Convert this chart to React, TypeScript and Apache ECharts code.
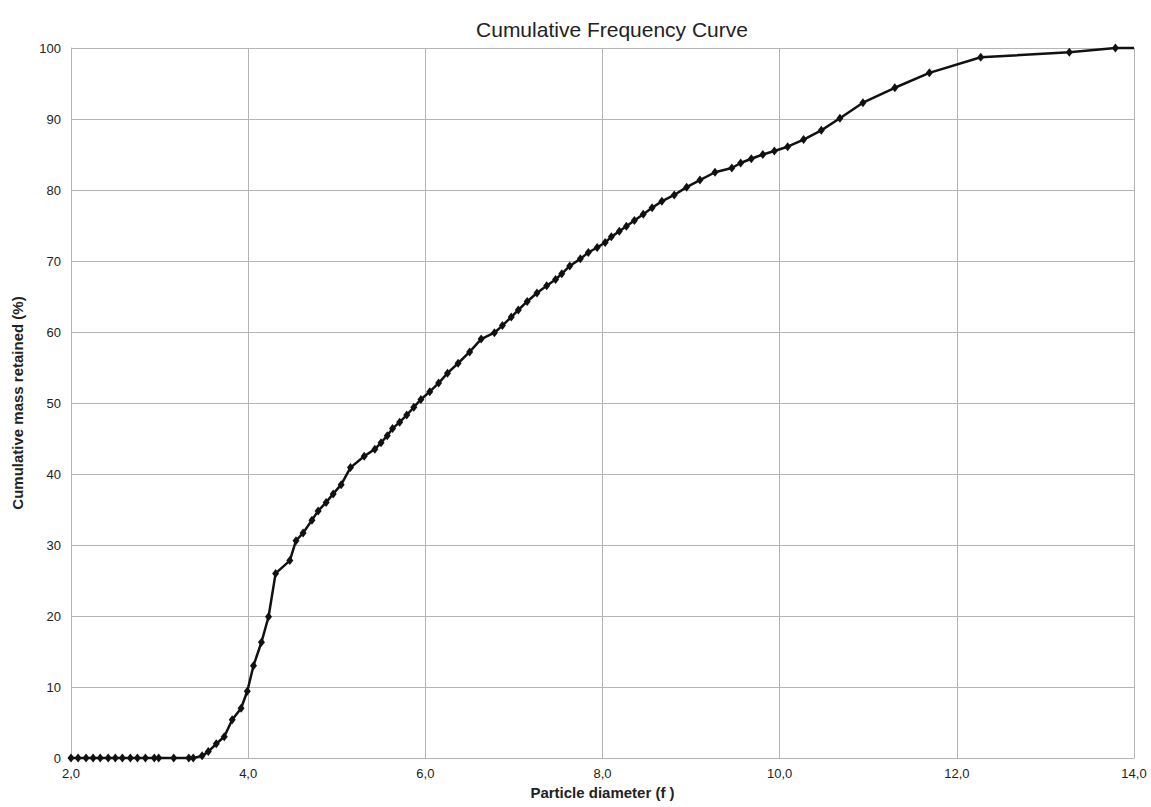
import React, { useEffect, useRef } from "react";
import * as echarts from "echarts";

// Particle diameter (phi) of each measured point
const diameters: number[] = [
  2.0, 2.08, 2.17, 2.25, 2.33, 2.42, 2.5, 2.58, 2.67, 2.75, 2.84, 2.94, 2.99,
  3.16, 3.33, 3.38, 3.48, 3.55, 3.64, 3.73, 3.82, 3.92, 3.99, 4.06, 4.15, 4.23,
  4.31, 4.47, 4.54, 4.62, 4.72, 4.79, 4.88, 4.96, 5.05, 5.155, 5.31, 5.43, 5.5,
  5.57, 5.63, 5.71, 5.79, 5.87, 5.95, 6.05, 6.15, 6.25, 6.37, 6.5, 6.63, 6.78,
  6.87, 6.97, 7.05, 7.15, 7.26, 7.37, 7.47, 7.54, 7.63, 7.75, 7.84, 7.94, 8.03,
  8.1, 8.19, 8.27, 8.36, 8.46, 8.56, 8.67, 8.81, 8.95, 9.1, 9.27, 9.46, 9.56,
  9.68, 9.81, 9.94, 10.09, 10.27, 10.47, 10.68, 10.94, 11.3, 11.69, 12.27,
  13.27, 13.79, 14.0,
];

// Cumulative mass retained (%) at each diameter
const cumulativeMass: number[] = [
  0, 0, 0, 0, 0, 0, 0, 0, 0, 0, 0, 0, 0,
  0, 0, 0, 0.3, 0.9, 2.0, 3.0, 5.4, 7.0, 9.4, 13.0, 16.3, 19.9,
  26.0, 27.8, 30.6, 31.7, 33.5, 34.8, 36.0, 37.2, 38.5, 40.9, 42.5, 43.5, 44.4,
  45.4, 46.4, 47.3, 48.3, 49.4, 50.5, 51.6, 52.8, 54.2, 55.6, 57.2, 59.0, 59.9,
  60.9, 62.1, 63.1, 64.3, 65.5, 66.5, 67.4, 68.2, 69.3, 70.3, 71.2, 71.9, 72.6,
  73.4, 74.2, 74.9, 75.7, 76.6, 77.5, 78.4, 79.3, 80.4, 81.4, 82.5, 83.1, 83.8,
  84.4, 85.0, 85.5, 86.1, 87.1, 88.4, 90.1, 92.3, 94.4, 96.5, 98.7,
  99.4, 100, 100,
];

const titleText = "Cumulative Frequency Curve";
const xAxisTitle = "Particle diameter (f )";
const yAxisTitle = "Cumulative mass retained (%)";

const FONT = "'Liberation Sans', Arial, sans-serif";

export default function App() {
  const ref = useRef<HTMLDivElement>(null);

  useEffect(() => {
    document.body.style.margin = "0";
    if (!ref.current) return;
    const chart = echarts.init(ref.current, undefined, { renderer: "svg" });
    const last = diameters.length - 1;
    const data = diameters.map((d, i) =>
      i === last
        ? { value: [d, cumulativeMass[i]], symbol: "none" }
        : { value: [d, cumulativeMass[i]] }
    );
    chart.setOption({
      animation: false,
      backgroundColor: "#ffffff",
      textStyle: { fontFamily: FONT },
      title: {
        text: titleText,
        left: 607,
        top: 14,
        textAlign: "center",
        textStyle: {
          fontFamily: FONT,
          fontSize: 21,
          fontWeight: "normal",
          color: "#222",
        },
      },
      grid: { left: 71, right: 17, top: 48, bottom: 49, containLabel: false },
      xAxis: {
        type: "value",
        min: 2,
        max: 14,
        interval: 2,
        name: xAxisTitle,
        nameLocation: "middle",
        nameGap: 26,
        nameTextStyle: {
          fontFamily: FONT,
          fontSize: 15,
          fontWeight: "bold",
          color: "#222",
        },
        axisLine: { show: true, lineStyle: { color: "#b4b4b4", width: 1 } },
        axisTick: { show: false },
        axisLabel: {
          fontFamily: FONT,
          fontSize: 13,
          color: "#222",
          margin: 9,
          showMaxLabel: true,
          formatter: (v: number) => v.toFixed(1).replace(".", ","),
        },
        splitLine: { show: true, lineStyle: { color: "#b4b4b4", width: 1 } },
      },
      yAxis: {
        type: "value",
        min: 0,
        max: 100,
        interval: 10,
        name: yAxisTitle,
        nameLocation: "middle",
        nameGap: 46,
        nameTextStyle: {
          fontFamily: FONT,
          fontSize: 15,
          fontWeight: "bold",
          color: "#222",
        },
        axisLine: { show: true, lineStyle: { color: "#b4b4b4", width: 1 } },
        axisTick: { show: false },
        axisLabel: {
          fontFamily: FONT,
          fontSize: 13,
          color: "#222",
          margin: 10,
        },
        splitLine: { show: true, lineStyle: { color: "#b4b4b4", width: 1 } },
      },
      series: [
        {
          type: "line",
          data,
          symbol: "diamond",
          symbolSize: [7, 9],
          itemStyle: { color: "#111111" },
          lineStyle: { color: "#111111", width: 2.5 },
          clip: false,
        },
      ],
    });
    return () => chart.dispose();
  }, []);

  return <div ref={ref} style={{ width: 1151, height: 807 }} />;
}
